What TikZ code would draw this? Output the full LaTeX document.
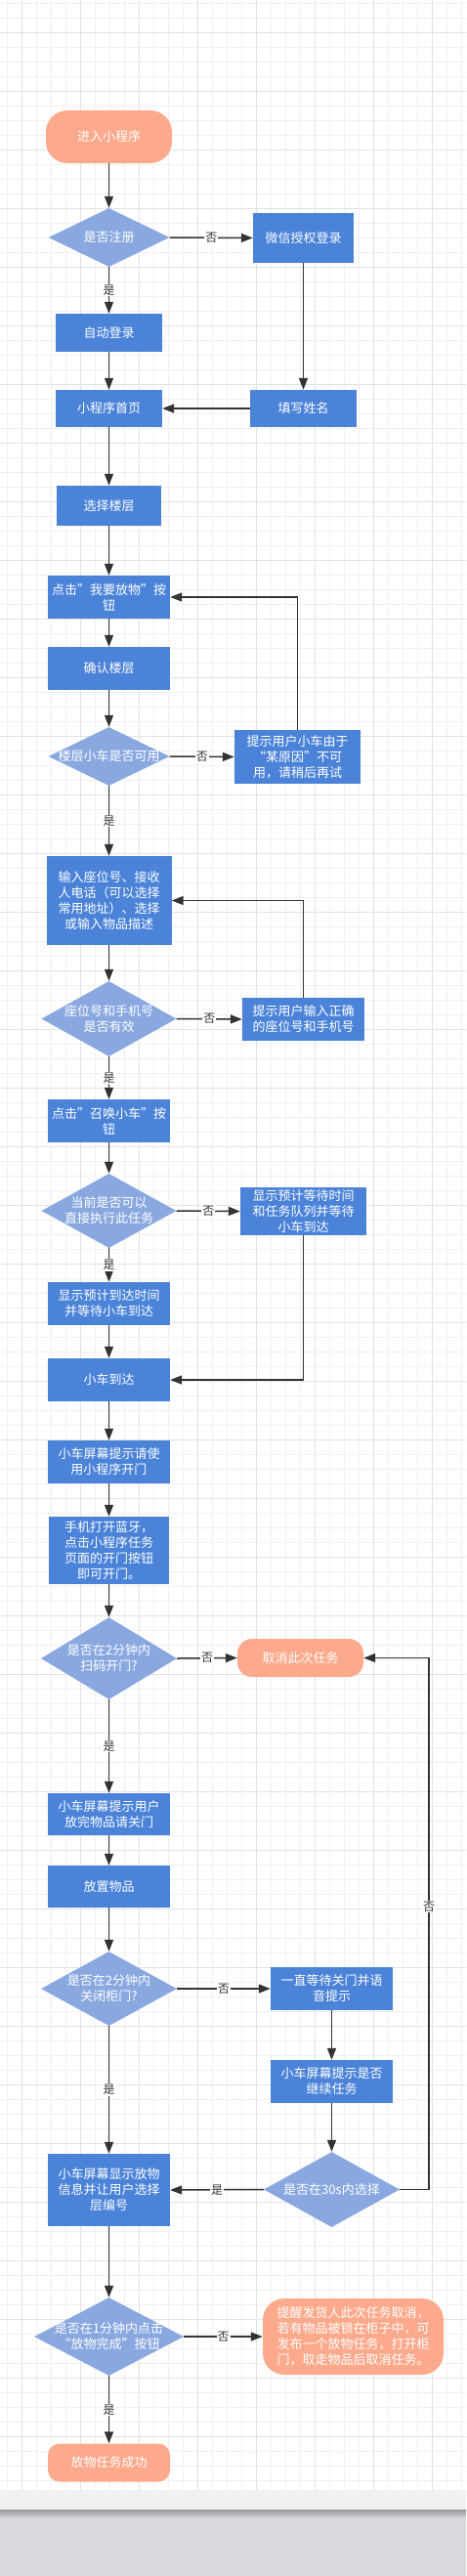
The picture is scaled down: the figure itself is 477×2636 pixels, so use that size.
\documentclass[tikz,border=0pt]{standalone}
\usepackage{fontspec}
\setmainfont{Noto Sans CJK SC}
\usetikzlibrary{shapes.geometric,arrows.meta}

\definecolor{boxblue}{HTML}{4B83D8}
\definecolor{diablue}{HTML}{8AA8E0}
\definecolor{salmon}{HTML}{FDA98C}
\definecolor{linegray}{HTML}{333333}
\definecolor{gridminor}{HTML}{F0F0F0}
\definecolor{gridmajor}{HTML}{E2E2E2}
\definecolor{stripgray}{HTML}{F1F1F1}
\definecolor{deskgray}{HTML}{D9DADE}

\tikzset{
  box/.style={fill=boxblue, text=white, align=center, inner sep=0pt,
    minimum width=125pt, minimum height=44pt,
    font=\fontsize{13pt}{16pt}\selectfont},
  term/.style={box, fill=salmon, rounded corners=15pt},
  dia/.style={diamond, fill=diablue, inner sep=0pt, aspect=2},
  diatext/.style={text=white, align=center, inner sep=0pt,
    font=\fontsize{13pt}{16pt}\selectfont},
  arr/.style={draw=linegray, line width=1.5pt, -{Triangle[length=12pt,width=9pt]}},
  lbl/.style={fill=white, text=linegray, inner sep=1pt,
    font=\fontsize{12pt}{12pt}\selectfont},
}

\begin{document}
\begin{tikzpicture}
	\useasboundingbox (0pt,0pt) rectangle (477pt,-2636pt);
	% grid paper
	\foreach \i in {0,...,31} \draw[gridminor, line width=1pt] ({7.3pt+15pt*\i},0pt) -- ++(0pt,-2548pt);
	\foreach \i in {0,...,169} \draw[gridminor, line width=1pt] (0pt,{-3.3pt-15pt*\i}) -- ++(477pt,0pt);
	\foreach \i in {0,...,7} \draw[gridmajor, line width=1pt] ({22.3pt+60pt*\i},0pt) -- ++(0pt,-2548pt);
	\foreach \i in {0,...,42} \draw[gridmajor, line width=1pt] (0pt,{-33.3pt-60pt*\i}) -- ++(477pt,0pt);
	\fill[stripgray] (0pt,-2548pt) rectangle (477pt,-2568pt);
	\fill[deskgray] (0pt,-2568pt) rectangle (477pt,-2636pt);
	\shade[top color=gray!80, bottom color=deskgray] (0pt,-2568pt) rectangle (477pt,-2577pt);

	% main column
	\node[term, minimum width=129pt, minimum height=54pt, rounded corners=22pt] (start) at (111.5pt,-140pt) {进入小程序};
	\node[dia, minimum width=124pt, minimum height=60pt, label={[diatext]center:是否注册}] (reg) at (111.5pt,-243pt) {};
	\node[box, minimum width=103pt, minimum height=51pt] (wx) at (310.5pt,-243.5pt) {微信授权登录};
	\node[box, minimum width=109pt, minimum height=39pt] (auto) at (111.5pt,-340.5pt) {自动登录};
	\node[box, minimum width=109pt, minimum height=38pt] (home) at (111.5pt,-418pt) {小程序首页};
	\node[box, minimum width=109pt, minimum height=38pt] (name) at (310.5pt,-418pt) {填写姓名};
	\node[box, minimum width=107pt, minimum height=41pt] (floor) at (111.5pt,-517.5pt) {选择楼层};
	\node[box] (putbtn) at (111.5pt,-611pt) {点击"我要放物"按\\钮};
	\node[box] (confirm) at (111.5pt,-684pt) {确认楼层};
	\node[dia, minimum width=124pt, minimum height=60pt, label={[diatext]center:楼层小车是否可用}] (avail) at (111.5pt,-774pt) {};
	\node[box, minimum width=129pt, minimum height=55pt] (hint1) at (304.5pt,-774.5pt) {提示用户小车由于\\“某原因”不可\\用，请稍后再试};
	\node[box, minimum width=128pt, minimum height=91pt] (input) at (111.5pt,-921.5pt) {输入座位号、接收\\人电话（可以选择\\常用地址）、选择\\或输入物品描述};
	\node[dia, minimum width=138pt, minimum height=77pt, label={[diatext]center:{座位号和手机号\\是否有效}}] (valid) at (111.5pt,-1042.5pt) {};
	\node[box] (hint2) at (310.5pt,-1043pt) {提示用户输入正确\\的座位号和手机号};
	\node[box] (call) at (111.5pt,-1147pt) {点击"召唤小车"按\\钮};
	\node[dia, minimum width=138pt, minimum height=76pt, label={[diatext]center:{当前是否可以\\直接执行此任务}}] (direct) at (111.5pt,-1239pt) {};
	\node[box, minimum width=129pt, minimum height=49pt] (waitq) at (310.5pt,-1239.5pt) {显示预计等待时间\\和任务队列并等待\\小车到达};
	\node[box] (showeta) at (111.5pt,-1334pt) {显示预计到达时间\\并等待小车到达};
	\node[box] (arrive) at (111.5pt,-1412pt) {小车到达};
	\node[box] (prompt) at (111.5pt,-1496pt) {小车屏幕提示请使\\用小程序开门};
	\node[box, minimum width=123pt, minimum height=69pt] (bt) at (111.5pt,-1586.5pt) {手机打开蓝牙，\\点击小程序任务\\页面的开门按钮\\即可开门。};
	\node[dia, minimum width=139pt, minimum height=84pt, label={[diatext]center:{是否在2分钟内\\扫码开门?}}] (scan) at (111.5pt,-1697pt) {};
	\node[term, minimum width=129pt, minimum height=39pt] (cancel) at (307.5pt,-1696.5pt) {取消此次任务};
	\node[box, minimum height=43pt] (closeprompt) at (111.5pt,-1856.5pt) {小车屏幕提示用户\\放完物品请关门};
	\node[box, minimum height=43pt] (place) at (111.5pt,-1930.5pt) {放置物品};
	\node[dia, minimum width=139pt, minimum height=76pt, label={[diatext]center:{是否在2分钟内\\关闭柜门?}}] (close) at (111.5pt,-2035pt) {};
	\node[box] (waitclose) at (339.5pt,-2035pt) {一直等待关门并语\\音提示};
	\node[box] (cont) at (339.5pt,-2130pt) {小车屏幕提示是否\\继续任务};
	\node[box, minimum height=74pt] (showinfo) at (111.5pt,-2241pt) {小车屏幕显示放物\\信息并让用户选择\\层编号};
	\node[dia, minimum width=139pt, minimum height=77pt, label={[diatext]center:是否在30s内选择}] (sel30) at (339.5pt,-2240.5pt) {};
	\node[dia, minimum width=153pt, minimum height=80pt, label={[diatext]center:{是否在1分钟内点击\\“放物完成”按钮}}] (done1) at (111.5pt,-2391pt) {};
	\node[term, align=left, minimum width=185pt, minimum height=78pt, rounded corners=22pt] (remind) at (361.5pt,-2391pt) {提醒发货人此次任务取消，\\若有物品被锁在柜子中，可\\发布一个放物任务，打开柜\\门，取走物品后取消任务。};
	\node[term, minimum height=39pt, rounded corners=12pt] (success) at (111.5pt,-2520pt) {放物任务成功};
	\coordinate (rt) at (439pt,-1696.5pt);

	% connectors
	\draw[arr] (start.south) -- (reg.north);
	\draw[arr] (reg.east) -- node[lbl]{否} (wx.west);
	\draw[arr] (reg.south) -- node[lbl]{是} (auto.north);
	\draw[arr] (wx.south) -- (name.north);
	\draw[arr] (name.west) -- (home.east);
	\draw[arr] (auto.south) -- (home.north);
	\draw[arr] (home.south) -- (floor.north);
	\draw[arr] (floor.south) -- (putbtn.north);
	\draw[arr] (putbtn.south) -- (confirm.north);
	\draw[arr] (confirm.south) -- (avail.north);
	\draw[arr] (avail.east) -- node[lbl]{否} (hint1.west);
	\draw[arr] (hint1.north) |- (putbtn.east);
	\draw[arr] (avail.south) -- node[lbl]{是} (input.north);
	\draw[arr] (input.south) -- (valid.north);
	\draw[arr] (valid.east) -- node[lbl]{否} (hint2.west);
	\draw[arr] (hint2.north) |- (input.east);
	\draw[arr] (valid.south) -- node[lbl]{是} (call.north);
	\draw[arr] (call.south) -- (direct.north);
	\draw[arr] (direct.east) -- node[lbl]{否} (waitq.west);
	\draw[arr] (direct.south) -- node[lbl]{是} (showeta.north);
	\draw[arr] (showeta.south) -- (arrive.north);
	\draw[arr] (waitq.south) |- (arrive.east);
	\draw[arr] (arrive.south) -- (prompt.north);
	\draw[arr] (prompt.south) -- (bt.north);
	\draw[arr] (bt.south) -- (scan.north);
	\draw[arr] (scan.east) -- node[lbl]{否} (cancel.west);
	\draw[arr] (scan.south) -- node[lbl]{是} (closeprompt.north);
	\draw[arr] (closeprompt.south) -- (place.north);
	\draw[arr] (place.south) -- (close.north);
	\draw[arr] (close.east) -- node[lbl]{否} (waitclose.west);
	\draw[arr] (close.south) -- node[lbl]{是} (showinfo.north);
	\draw[arr] (waitclose.south) -- (cont.north);
	\draw[arr] (cont.south) -- (sel30.north);
	\draw[arr] (sel30.west) -- node[lbl]{是} (showinfo.east);
	\draw[arr] (sel30.east) -| node[lbl, pos=0.766]{否} (rt) -- (cancel.east);
	\draw[arr] (showinfo.south) -- (done1.north);
	\draw[arr] (done1.east) -- node[lbl]{否} (remind.west);
	\draw[arr] (done1.south) -- node[lbl]{是} (success.north);
\end{tikzpicture}
\end{document}
